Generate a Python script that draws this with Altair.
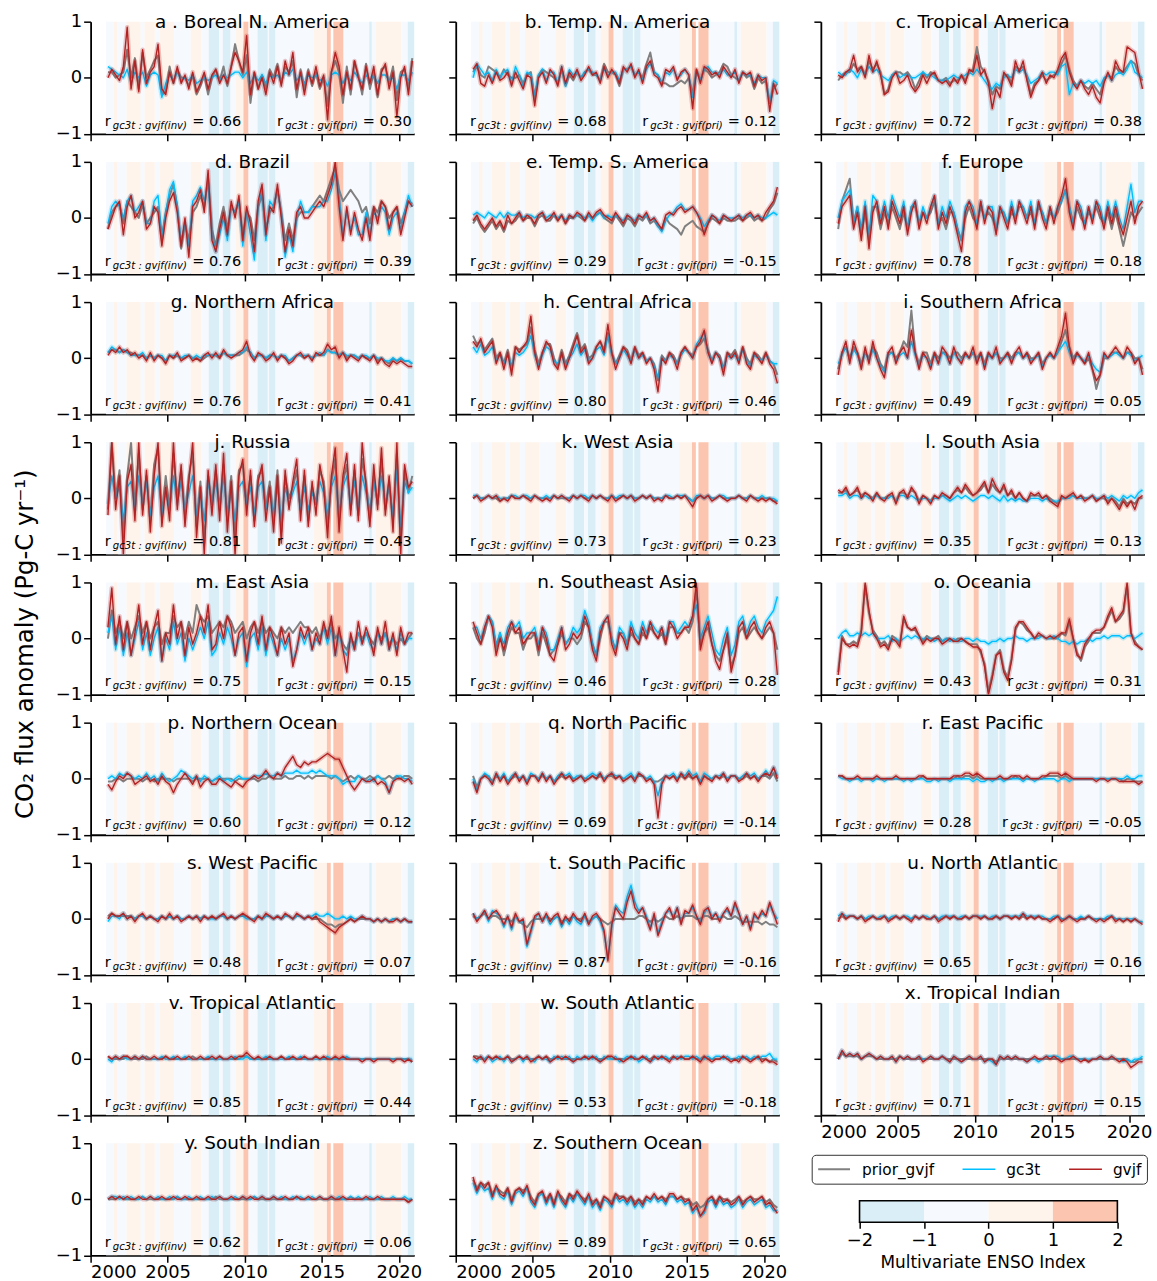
import math
import altair as alt
import pandas as pd

FONT = "DejaVu Sans"
LETTERS = list("abcdefghijklmnopqrstuvwxyz")
TITLES = ["a . Boreal N. America", "b. Temp. N. America", "c. Tropical America",
          "d. Brazil", "e. Temp. S. America", "f. Europe",
          "g. Northern Africa", "h. Central Africa", "i. Southern Africa",
          "j. Russia", "k. West Asia", "l. South Asia",
          "m. East Asia", "n. Southeast Asia", "o. Oceania",
          "p. Northern Ocean", "q. North Pacific", "r. East Pacific",
          "s. West Pacific", "t. South Pacific", "u. North Atlantic",
          "v. Tropical Atlantic", "w. South Atlantic", "x. Tropical Indian",
          "y. South Indian", "z. Southern Ocean"]
R_INV = [0.66, 0.68, 0.72, 0.76, 0.29, 0.78, 0.76, 0.80, 0.49, 0.81, 0.73, 0.35, 0.75,
         0.46, 0.43, 0.60, 0.69, 0.28, 0.48, 0.87, 0.65, 0.85, 0.53, 0.71, 0.62, 0.89]
R_PRI = [0.30, 0.12, 0.38, 0.39, -0.15, 0.18, 0.41, 0.46, 0.05, 0.43, 0.23, 0.13, 0.15,
         0.28, 0.31, 0.12, -0.14, -0.05, 0.07, -0.16, 0.16, 0.44, -0.18, 0.15, 0.06, 0.65]

SERIES = ["prior_gvjf", "gc3t", "gvjf"]
SERIES_COLORS = ["#808080", "#00bfff", "#b22222"]

# quarterly anomalies, hundredths of Pg-C/yr, 2001Q1 .. 2020Q4
PRIOR_GVJF = {
 "a": [10,10,0,5, 10,50,0,35, -20,45,0,15, 30,40,-30,-25, 20,-10,15,0, 0,-15,5,-30, -15,5,-30,0, 15,-5,20,-15, 20,60,30,5, 40,-45,10,-20, 5,-20,15,0, 25,-10,20,10, 30,-35,15,-20, 15,-15,10,-20, 0,-50,10,30, 10,-45,20,-30, 30,5,-30,25, -20,10,-35,15, 20,-10,20,-40, 10,15,-20,35],
 "b": [10,20,5,0, 20,15,10,0, 15,5,0,0, 5,-10,5,10, -40,5,15,10, 5,0,-10,15, -15,5,-5,10, 0,10,15,5, 5,-5,25,10, 10,5,-15,15, 15,20,5,10, 0,25,45,10, 5,-10,-10,-15, -15,-10,-5,-10, 0,-30,15,-5, 15,10,0,5, 10,25,20,5, 0,-5,10,0, 5,-20,0,-10, -5,-45,-20,-10],
 "c": [-5,5,10,10, 25,15,20,5, 30,15,25,10, -30,-20,5,10, 10,5,10,0, -20,-5,10,0, 10,5,-5,-5, 0,-10,-5,-5, 5,-5,10,15, 55,20,10,-5, -30,-15,-20,5, 5,-10,20,15, 20,0,-30,-10, -5,5,-5,0, 5,10,25,40, 15,-5,-15,-5, -15,-20,-10,-20, -30,-5,5,0, 20,10,10,20, 30,25,5,-5],
 "d": [-20,10,20,25, -10,30,20,10, 0,25,-10,0, 10,20,-40,10, 40,60,20,-55, -10,-40,10,20, 40,20,70,-20, -50,-10,20,-20, 20,10,30,-30, 10,0,-40,20, 40,-20,10,20, 50,10,-40,-10, -40,0,10,10, 10,20,30,40, 30,50,70,90, 50,30,40,50, 40,30,10,20, -10,20,10,30, 20,0,10,20, -10,10,30,25],
 "e": [-10,0,-15,-25, -15,-5,-20,-10, -25,-5,-10,-5, 5,-5,0,0, -15,0,5,-5, -5,5,-5,5, -10,0,0,5, 0,-5,5,0, 5,10,0,-5, -10,5,-5,-15, 0,-5,-15,0, -5,5,-10,-5, -15,-20,0,-10, -15,-20,-30,-15, -10,-5,-15,-20, -25,-10,0,-5, -10,0,-5,-5, -5,0,-5,0, 5,-5,0,-5, 0,15,25,45],
 "f": [-20,30,50,70, -10,20,-30,10, -40,20,20,-20, 10,-10,20,0, -20,10,-20,20, 20,-10,10,0, 10,30,-10,0, -20,10,10,-20, -40,0,20,0, -10,20,0,10, 0,-20,10,10, -10,10,0,20, 20,0,10,-10, 20,10,-10,10, 0,10,30,50, 20,-10,20,0, -10,10,0,20, 0,-10,10,-20, 10,-20,-50,-20, 10,0,10,20],
 "g": [10,15,15,10, 15,10,10,5, 5,5,0,5, 0,5,0,-5, 5,0,5,0, 0,5,0,0, -5,0,5,5, 5,0,10,5, 5,5,5,10, 15,10,0,5, 5,0,5,5, 0,5,0,-5, 0,5,5,0, 5,0,5,5, 5,15,10,10, 5,10,0,5, 5,0,5,0, 0,5,-5,0, -5,-10,0,-5, 0,-5,-5,-10],
 "h": [40,25,30,15, 25,35,0,10, -10,15,-20,20, 15,20,25,55, 15,-10,10,25, 25,0,-15,15, -10,5,25,45, 15,25,0,5, 20,30,15,45, 10,-10,5,20, 15,-5,20,5, 10,-5,0,-10, -40,5,-5,10, 5,-10,10,20, 10,5,20,25, 35,15,-5,10, 5,-20,10,5, 15,-5,20,0, -10,10,5,-5, 10,-5,-10,-30],
 "i": [-20,10,20,0, 20,10,-10,10, 0,20,10,-10, -20,10,10,0, 10,30,20,85, 10,-10,10,10, -10,10,0,10, 10,0,10,10, 0,10,0,10, 0,10,-10,10, 0,10,0,0, 10,0,10,10, 0,10,0,0, 10,-10,0,10, 0,10,30,50, 20,0,10,0, -10,0,-20,-55, -30,0,0,10, 10,10,0,10, 10,0,0,-20],
 "j": [-20,100,0,50, -70,40,100,-20, 80,-20,40,-40, 60,90,-30,40, -20,80,0,50, -30,40,80,-50, 30,-80,40,-10, 50,-20,60,-40, 40,-70,50,60, -10,40,-40,40, 50,-20,30,-40, 50,-60,40,0, 20,50,-20,40, -40,20,-10,50, 30,-50,30,70, -40,30,60,-20, 50,-30,70,30, -40,40,-10,70, -20,30,-40,80, -80,50,10,40],
 "k": [0,5,0,0, 5,0,0,-5, 0,0,5,0, 0,5,0,0, 5,0,0,0, 0,5,0,0, 0,0,5,0, 5,0,0,5, 0,5,0,0, 5,0,0,5, 0,5,0,0, 5,0,5,0, 0,0,5,0, 0,5,0,5, 0,-5,0,5, 0,5,0,0, 5,0,0,0, 0,5,0,0, 5,0,0,0, 0,0,-5,-5],
 "l": [10,10,15,5, 10,15,5,10, 5,0,10,0, 0,5,5,-5, 10,10,5,15, 10,-5,5,0, -5,5,0,5, 5,0,10,15, 10,20,10,5, 10,15,25,10, 25,15,10,20, 5,10,0,10, 0,-5,5,5, 5,0,5,0, -5,-10,0,0, 5,5,0,5, 0,0,5,-5, 0,0,-5,0, -5,-15,0,-10, -5,-10,0,0],
 "m": [0,50,10,30, 0,30,0,20, 40,10,30,0, 20,30,-10,10, 10,40,20,30, 0,30,10,60, 40,30,40,10, 20,30,20,40, 30,10,20,30, 0,20,30,10, 30,10,20,10, 0,20,10,20, 10,20,30,20, 20,10,20,0, 20,10,30,0, 10,-10,-20,0, -10,10,0,10, 0,-10,10,0, 10,-10,0,-10, 0,-10,0,10],
 "n": [20,0,-10,10, 40,30,-20,10, -30,0,20,10, 10,-20,0,0, 10,-30,10,-10, -30,-20,-10,10, -10,0,0,-10, 0,30,20,-10, -30,0,30,30, 0,-20,10,10, -10,10,0,-10, 10,0,20,10, 0,10,-10,20, 20,10,10,20, 10,30,90,-10, 10,20,-10,-30, -40,-20,0,-50, -30,10,20,0, 10,20,10,0, 10,20,10,-20],
 "o": [-60,5,-10,-10, -5,-10,15,95, 45,15,5,-10, -5,-15,5,0, -10,35,20,15, 15,5,-5,5, 0,0,5,-5, 0,0,-5,0, 0,-5,-10,-10, -10,-25,-45,-95, -65,-30,-20,-55, -70,-35,15,30, 25,15,10,0, 5,5,0,0, 0,0,10,5, 30,0,-25,-40, -15,-5,10,10, 10,20,35,50, 30,35,45,95, 10,-5,-15,-20],
 "p": [-5,-5,0,0, -5,0,0,0, 0,-5,0,0, -5,0,0,0, 0,-5,0,0, 0,0,-5,0, 0,0,0,-5, 0,0,0,0, 0,-5,0,0, 0,0,0,-5, 0,0,5,0, 0,0,5,0, 0,5,5,0, 5,0,5,5, 5,5,0,5, 0,-5,0,5, 0,5,0,0, 5,0,5,0, 0,5,0,5, 0,5,5,0],
 "q": [5,-15,0,5, 5,-5,5,0, 5,-5,0,5, 0,5,-5,5, 5,0,5,0, 5,-5,0,5, 0,5,0,0, 5,0,0,5, 0,5,0,5, 5,0,5,0, 0,5,0,5, 5,0,0,-5, -5,0,5,0, 5,0,5,0, 5,0,5,-5, 5,0,0,5, 0,5,0,5, 5,0,0,5, 0,5,0,5, 5,0,10,-5],
 "r": [5,5,0,0, 0,0,0,0, 0,0,0,0, 0,0,0,0, 0,0,0,0, 0,0,5,0, 0,0,0,0, 0,0,0,5, 0,5,5,0, 5,0,0,0, 0,0,0,0, 0,0,5,0, 0,0,0,0, 0,0,5,5, 5,5,0,5, 0,0,0,0, 0,0,0,0, 0,0,0,0, 0,0,-5,0, 0,-5,-5,-5],
 "s": [5,10,5,5, 5,5,5,0, 5,5,0,5, 0,0,5,0, 5,0,5,0, 0,5,0,5, 0,5,0,5, 0,5,5,0, 5,0,5,5, 5,0,0,5, 0,5,5,0, 5,0,5,5, 0,5,5,0, 5,0,0,0, -5,-10,-10,-15, -10,-10,-5,0, -5,0,0,0, 0,-5,0,-5, 0,-5,0,0, -5,0,-5,-5],
 "t": [5,0,5,10, 0,5,5,0, 0,0,-5,5, -5,-10,-15,-5, 0,0,0,5, 0,0,5,-5, 0,0,5,0, 0,5,-5,0, 5,0,-5,-10, -5,0,0,0, 0,0,0,5, 5,0,-5,0, -5,0,5,0, 0,5,0,5, 5,5,0,0, 5,5,0,0, 0,5,0,0, 5,0,-5,-5, -5,-5,-5,-10, -5,-10,-10,-15],
 "u": [0,5,0,5, 5,0,5,0, 0,5,0,0, 5,0,0,5, 0,5,0,0, 5,0,5,0, 0,5,0,0, 5,0,5,0, 0,5,0,5, 5,0,5,0, 0,5,0,5, 5,0,5,0, 5,0,5,0, 5,0,0,0, 0,5,0,0, 5,0,0,0, 0,5,0,0, 0,0,0,5, 0,0,-5,0, -5,0,-5,-5],
 "v": [5,0,0,0, 0,5,0,0, 0,0,5,0, 0,0,0,5, 0,0,0,0, 0,0,5,0, 0,0,0,0, 0,5,0,0, 0,0,0,5, 5,0,0,0, 0,0,0,0, 0,5,0,0, 0,0,0,0, 0,0,5,0, 0,0,0,0, 0,0,0,0, 0,0,0,0, 0,0,0,0, 0,0,0,0, 0,0,0,-5],
 "w": [5,5,0,0, 5,0,5,0, 0,5,0,0, 5,0,0,0, 0,5,0,5, 0,0,5,0, 0,0,0,0, 0,5,0,5, 0,0,0,5, 0,0,0,0, 0,5,0,0, 5,0,0,5, 0,5,0,0, 5,0,5,0, 0,5,0,0, 5,0,0,0, 0,5,0,0, 0,0,5,0, 0,0,5,0, 0,-5,0,-5],
 "x": [0,10,5,5, 5,5,0,5, 5,5,0,0, 0,0,0,0, 5,0,0,0, 0,0,0,0, 0,0,0,5, 0,0,0,0, 0,0,0,0, 0,0,0,0, 0,-5,0,0, 0,0,0,0, 0,0,0,0, 0,0,0,0, 0,0,0,0, 0,0,0,0, 0,-5,0,0, 0,0,0,0, 0,0,0,0, -5,-5,0,0],
 "y": [0,0,0,5, 0,0,0,0, 0,5,0,0, 0,0,0,0, 0,0,5,0, 0,0,0,0, 0,0,0,0, 5,0,0,0, 0,0,0,0, 0,0,5,0, 0,0,0,0, 0,0,0,0, 0,5,0,0, 0,0,0,0, 0,0,0,0, 0,0,0,5, 0,0,0,0, 0,0,0,0, 0,0,0,0, 0,0,-5,0],
 "z": [35,20,30,25, 30,10,20,15, 10,20,0,15, 20,15,20,5, -5,10,10,0, 10,-5,10,5, -5,10,5,10, 5,0,5,-5, 0,-10,5,0, -5,10,5,5, 0,5,-5,0, -5,5,0,5, 0,5,0,5, 5,0,5,0, 0,-10,-5,-15, -10,0,5,-5, 5,0,0,-5, 0,5,-5,0, 5,0,0,5, -5,0,-10,-15],
}

GC3T = {
 "a": [20,15,10,5, 0,15,-10,10, 0,10,-15,5, 10,5,-35,-10, 5,-5,10,-5, 0,-5,5,-10, -5,0,-5,0, 5,-5,5,0, 5,10,10,0, 10,-10,5,-5, 5,-10,5,0, 5,-5,10,5, 15,-5,5,-10, 5,0,5,-5, 0,-15,5,10, 5,-10,5,-5, 10,0,-10,5, -5,5,-10,5, 5,-5,0,-20, 5,5,-5,10],
 "b": [0,25,15,5, 10,-5,15,0, 10,15,-10,20, 5,-15,10,5, -30,5,15,-5, 10,10,-10,20, -15,15,5,10, 0,10,15,10, 5,-5,15,5, 10,10,-5,15, 15,20,5,10, -5,15,25,10, 5,-10,10,5, 15,0,5,15, 5,-35,10,-5, 15,20,10,10, 5,15,5,5, 10,-5,10,5, 5,-10,5,0, 0,-45,-5,-10],
 "c": [10,5,5,15, 10,0,15,5, 20,10,15,5, 0,-5,5,10, 0,5,5,0, 0,5,10,5, 5,0,-5,-5, -5,0,5,0, 0,5,10,5, 15,5,-5,-15, -20,-10,-15,0, 5,0,15,10, 15,5,-10,-5, 0,10,5,10, 10,5,20,25, -30,-10,-15,-5, -10,-5,-10,-5, -15,0,5,-5, 5,10,5,15, 30,10,5,0],
 "d": [-10,20,30,20, 0,30,40,10, 20,30,-10,-10, 30,40,-30,10, 50,65,20,-40, -10,-50,30,40, 55,30,60,-30, -60,-30,0,-40, 20,10,30,-50, 10,-30,-75,20, 50,-40,30,20, 50,10,-70,-30, -60,0,30,10, 10,20,20,20, 30,30,50,80, 40,-30,10,-20, 0,-30,-30,10, -30,10,0,20, 10,-30,0,10, -20,10,40,20],
 "e": [5,10,5,0, 10,5,0,10, 0,10,5,5, 10,0,5,5, 0,5,10,0, 5,5,0,5, -5,5,0,5, 5,0,5,-5, 5,10,0,5, 0,5,0,-5, 5,0,-5,5, 0,5,-5,0, -15,-25,-5,5, 10,20,25,15, 15,20,10,0, -15,-5,5,0, -5,5,0,0, 0,5,0,5, 5,0,5,0, 0,5,10,5],
 "f": [0,30,40,50, -10,20,-20,30, -30,40,30,0, 30,0,40,20, 0,30,-20,20, 30,-10,20,0, 20,40,-10,20, 0,30,10,-20, -40,20,30,20, -10,30,0,20, 20,-20,20,10, -10,30,0,30, 20,0,30,-10, 30,10,-10,20, 0,20,30,50, 20,-10,30,20, -10,20,0,30, 20,-10,30,0, 30,0,-20,20, 60,10,30,30],
 "g": [10,20,15,10, 15,10,5,5, 5,10,0,5, 0,5,5,-5, 5,5,5,0, 5,5,0,5, 0,5,5,5, 5,5,10,5, 5,5,10,10, 20,10,0,5, 5,0,5,5, 0,5,5,-5, 0,5,5,5, 5,0,5,10, 5,15,10,10, 5,10,5,5, 5,0,5,5, 0,5,0,0, -5,-5,0,-5, 0,-5,-5,-10],
 "h": [20,10,25,5, 10,20,-5,5, -10,5,-15,10, 5,10,20,40, 5,-15,5,20, 15,-5,-10,5, -15,0,10,25, 5,15,-5,0, 15,20,5,40, 5,-10,0,15, 5,-5,15,0, 5,-5,0,-15, -35,0,-5,5, 0,-10,5,15, 10,0,25,35, 45,10,-5,10, 0,-20,5,0, 5,-5,15,-5, -15,5,0,-5, 5,-5,-10,-10],
 "i": [-10,5,20,-5, 15,5,-15,10, -5,15,0,-15, -25,5,10,-5, 5,10,0,30, 5,-15,5,0, -15,5,-10,10, 5,-10,10,0, -5,5,0,10, -5,5,-15,5, 0,10,-5,0, 5,-5,5,10, 0,5,-5,0, 5,-15,0,5, 0,10,20,30, 10,-5,5,0, -5,5,-10,-20, -25,5,0,5, 10,5,0,10, 5,-5,0,5],
 "j": [-10,40,0,20, -40,20,30,-20, 40,-10,30,-30, 20,40,-30,10, -20,40,-10,30, -20,10,40,-30, 10,-40,30,-10, 30,-20,40,-30, 10,-40,20,30, -10,20,-30,20, 30,-20,10,-30, 20,-40,20,-10, 10,30,-20,20, -20,10,-10,30, 10,-30,20,40, -30,20,40,-10, 30,-20,40,10, -20,30,-10,40, -10,20,-30,50, -50,30,10,20],
 "k": [5,5,0,0, 5,0,5,0, 0,0,5,5, 0,5,5,0, 5,0,0,5, 0,5,0,5, 0,0,5,0, 5,5,0,5, 0,5,0,0, 5,0,5,5, 0,5,0,0, 5,0,5,0, 0,0,5,5, 0,5,5,5, 0,-5,5,5, 0,5,0,0, 5,5,0,0, 0,5,0,0, 5,0,0,5, 0,0,0,-5],
 "l": [5,5,10,0, 5,5,0,5, 0,0,5,0, 0,0,5,-5, 5,5,0,5, 0,-5,0,0, -5,0,0,5, 0,-5,0,5, 0,5,0,-5, 0,5,5,0, 5,0,-5,5, -5,0,-5,0, -5,-5,0,0, 0,-5,0,-5, -5,-5,0,0, 0,5,0,0, 0,0,5,0, 0,5,0,5, 0,-5,5,0, 5,0,10,15],
 "m": [10,40,-20,20, -30,10,-30,0, 30,-20,10,-30, 0,20,-40,0, -20,30,-10,10, -40,0,-20,0, 20,0,30,-30, -20,10,-10,20, 0,-30,0,10, -50,0,10,-20, 20,-30,10,-10, -30,0,-20,0, -40,-20,10,-10, 10,-20,0,-10, 20,-10,20,-30, 10,-20,-30,0, -20,10,-10,10, -10,-20,10,-10, 10,-20,0,-20, 10,-10,0,0],
 "n": [20,20,0,20, 40,30,-10,10, -10,20,30,20, 30,0,10,10, 20,-10,20,10, -20,-20,0,20, -10,0,20,10, 20,50,30,-10, -30,20,30,40, 0,-20,20,10, -10,30,10,0, 30,10,30,20, 10,20,0,30, 30,10,20,30, 20,40,60,0, 20,40,10,-20, -30,0,20,-30, -10,30,40,10, 30,40,20,10, 30,40,50,75],
 "o": [0,10,15,5, 5,10,5,10, 5,10,0,0, 0,5,-5,0, -5,0,5,0, 5,0,0,0, 0,-5,0,-5, 0,-5,0,-5, -5,0,0,-5, 0,-5,-5,-10, -5,-5,0,-5, 0,0,5,0, 0,-5,0,0, 0,5,0,0, 5,0,-5,-5, -10,-5,-10,-5, -5,0,-5,0, 0,5,0,5, 5,5,0,5, 5,0,5,10],
 "p": [0,5,0,10, 5,10,5,0, 5,0,10,0, 5,-5,10,0, -5,0,5,15, 10,5,0,5, -5,5,0,-5, 0,5,-5,0, -5,0,5,0, 0,0,5,5, 5,10,5,5, 10,5,10,10, 10,15,10,10, 10,15,10,15, 10,5,5,5, 0,-10,-5,-5, -5,5,0,-5, 0,-5,5,0, -5,-25,-5,5, 5,0,0,-5],
 "q": [0,-20,0,10, 5,-10,10,0, 10,-5,5,10, 0,5,-5,10, 5,0,10,0, 5,-5,5,10, 5,10,0,5, 5,0,5,10, 5,10,0,5, 10,5,5,0, 5,10,0,10, 5,0,5,-5, -30,-5,5,5, 10,0,10,5, 15,5,10,-5, 10,5,0,5, 5,10,0,5, 5,0,5,10, 5,10,0,5, 15,5,20,5],
 "r": [5,0,0,-5, 0,0,-5,0, 0,-5,0,0, -5,0,0,0, 0,-5,0,-5, 0,0,0,-5, -5,0,-5,0, 0,-5,0,0, 0,0,0,-5, 0,-5,-5,0, -5,0,0,-5, 0,0,0,0, -5,0,0,-5, 0,0,0,0, 0,-5,0,0, -5,0,0,0, 0,0,0,0, 0,0,0,0, 0,0,0,5, 0,0,5,5],
 "s": [-5,5,5,0, 10,0,5,0, 5,5,0,5, 0,0,5,0, 5,0,5,0, 0,5,0,5, 0,5,0,0, 0,5,5,0, 5,0,5,5, 0,0,0,5, 0,5,5,0, 5,0,5,5, 0,5,5,0, 5,5,10,5, 5,10,5,0, 0,5,0,5, 0,0,5,0, 0,-5,0,-5, 0,-5,0,0, -5,0,-5,-5],
 "t": [10,0,5,15, -5,15,10,5, -15,5,-20,5, -5,-5,-50,-25, 0,10,-5,5, -10,0,5,-15, 0,-10,5,-5, -10,5,-10,0, 5,-5,-25,-70, -15,25,15,10, 40,60,30,15, 20,5,-15,5, -25,-5,10,15, 5,20,-5,10, 10,20,5,-5, 10,20,5,10, 0,10,15,5, 25,10,-10,5, -15,5,0,10, 5,25,10,0],
 "u": [5,10,5,5, 5,0,5,0, 5,5,0,5, 5,0,5,5, 0,5,5,0, 5,0,5,5, 0,5,0,5, 5,5,5,0, 5,5,0,5, 5,5,5,0, 5,5,0,5, 5,5,5,5, 10,5,5,5, 5,5,0,0, 5,5,0,0, 5,0,0,5, 0,5,0,0, 0,0,5,5, 0,0,0,0, 0,0,-5,-5],
 "v": [0,-5,5,0, 5,0,0,5, 0,5,0,0, 0,0,5,0, 0,5,0,0, 5,0,0,0, 0,0,5,0, 0,0,0,0, 0,5,0,0, 5,0,0,0, 0,5,0,0, 0,0,0,5, 0,0,5,0, 0,0,0,0, 0,5,0,0, 0,0,5,0, 0,0,0,0, 0,0,0,0, 0,0,0,0, 0,0,0,0],
 "w": [0,-5,5,0, 5,-5,0,5, -5,5,-5,0, 5,-5,5,0, -5,5,0,0, -5,5,0,5, 0,5,-5,5, 0,0,5,0, 5,-5,5,0, 0,5,-5,0, 5,0,5,-5, 0,5,-5,0, 5,0,5,0, 0,5,0,5, 5,0,5,0, 0,5,0,5, 5,0,5,0, 0,5,0,5, 0,5,0,5, 5,10,0,0],
 "x": [0,15,5,10, 5,10,0,5, 10,5,0,5, 0,0,5,-5, 5,0,5,0, 0,5,0,0, 5,0,0,5, 0,-5,5,0, -5,0,5,0, 0,5,-5,0, -5,-10,5,0, 5,0,5,0, 0,-5,0,0, -5,0,5,5, 5,5,0,0, 5,5,0,0, 0,0,0,0, 5,0,0,5, 0,0,-5,0, -5,0,0,5],
 "y": [0,5,5,0, 5,0,5,0, 0,5,0,5, 0,5,0,0, 5,0,5,0, 0,5,0,0, 5,0,0,5, 0,5,0,0, 0,5,0,5, 0,0,5,0, 5,0,0,5, 0,5,0,0, 5,0,5,0, 0,5,0,5, 0,0,5,0, 5,0,0,5, 0,5,0,0, 5,0,0,5, 0,0,5,0, 0,5,0,0],
 "z": [30,10,25,15, 20,0,20,5, 0,15,-10,10, 15,5,20,-5, -15,5,10,-10, 5,-15,10,-5, -15,5,-5,10, 0,-10,5,-15, -5,-20,0,-5, -15,5,-5,0, -10,0,-15,-5, -15,0,-5,5, -5,0,-10,5, 5,-5,0,-10, -5,-25,-15,-30, -25,-5,0,-15, 0,-10,-5,-15, -10,0,-15,-5, 0,-10,-5,0, -15,-10,-20,-20],
}

GVJF = {
 "a": [0,15,5,-5, 20,90,-20,30, -25,50,-10,10, 20,60,-20,-30, 10,-10,20,-10, 5,-20,10,-25, -10,10,-20,5, 15,-10,5,-10, 20,45,30,10, 75,-30,10,-20, 0,-30,10,-10, 20,-15,30,5, 45,-20,10,-30, 10,-10,20,-15, 5,-75,10,45, 20,-30,10,-20, 30,0,-20,20, -10,20,-30,10, 25,-20,10,-70, 0,20,-30,30],
 "b": [15,25,-10,-15, 5,-10,10,-5, 0,10,-15,10, -5,-20,5,0, -50,0,10,-10, 15,5,-15,20, -10,10,0,15, -5,5,20,5, 10,-10,20,0, 15,5,-10,20, 10,25,0,15, -10,20,30,5, 0,-15,15,10, 20,-5,10,15, 5,-55,15,-10, 20,15,5,10, 0,20,10,0, 15,-10,10,5, 10,-15,5,-5, 0,-60,-10,-30],
 "c": [5,0,10,15, 40,10,20,0, 40,10,30,5, -30,-25,0,10, -10,-5,5,-15, -25,-15,5,-10, 5,10,-5,-10, -5,-15,0,-10, 5,-10,15,10, 40,5,15,-10, -55,-20,-35,10, 0,-15,30,10, 30,-5,-35,-15, -5,10,-10,5, 0,15,35,45, 10,-10,-20,-5, -20,-30,-15,-35, -45,-10,10,-5, 30,15,10,55, 50,45,10,-20],
 "d": [-20,0,20,30, -30,20,40,0, 10,30,-20,-10, 20,10,-50,0, 30,45,10,-50, 0,-70,20,30, 50,10,85,-40, -60,-20,10,-30, 30,0,40,-40, 20,-10,-60,30, 60,-30,20,10, 60,0,-60,-20, -50,10,20,0, 0,10,20,30, 20,40,60,100, 20,-40,20,-30, 10,-20,-40,0, -40,20,-10,30, 20,-20,10,20, -30,0,30,20],
 "e": [-5,5,-10,-20, -10,0,-15,-5, -20,5,-10,0, 10,-5,5,0, -10,5,10,-5, 0,10,-5,5, -10,5,0,10, 5,-5,10,0, 10,15,5,0, -5,10,0,-10, 5,0,-10,5, 0,10,-5,0, -10,-20,5,10, 5,15,20,10, 15,20,10,-5, -30,-10,5,0, -10,5,0,-5, 0,5,-5,5, 10,0,5,-5, 10,20,30,55],
 "f": [-10,20,30,40, -20,10,-40,20, -55,10,30,-10, 20,-20,30,10, -10,20,-30,10, 30,-20,10,-10, 20,40,-20,10, -10,20,0,-30, -60,10,30,10, -20,30,-10,20, 10,-30,20,0, -20,20,-10,30, 10,-10,20,-20, 30,0,-20,20, -10,20,40,70, 10,-20,30,10, -20,20,-10,30, 10,-20,20,-10, 20,-10,-30,0, 30,-10,20,30],
 "g": [5,15,10,20, 10,15,5,10, 0,5,-5,10, -5,5,0,-10, 5,0,10,-5, 0,5,-5,0, -5,5,10,0, 10,0,15,5, 0,5,10,15, 30,5,-5,10, 5,-5,0,10, -5,5,0,-10, -5,5,10,0, 5,-5,10,5, 10,25,15,20, 0,10,-5,5, 0,-5,5,0, -5,5,-10,0, -10,-15,-5,-10, -5,-10,-15,-15],
 "h": [30,20,35,10, 20,30,-10,10, -20,10,-30,20, 10,20,30,75, 10,-20,10,30, 20,-10,-20,10, -20,0,20,40, 10,20,-10,0, 20,30,10,60, 10,-20,0,20, 10,-10,20,0, 10,-10,0,-20, -60,0,-10,10, 0,-20,10,20, 10,0,20,30, 50,10,-10,10, 0,-30,10,0, 10,-10,20,-10, -20,10,0,-10, 10,-10,-20,-45],
 "i": [-30,10,30,-10, 30,10,-20,20, -10,30,0,-20, -35,10,20,-10, 10,20,0,50, 10,-20,10,0, -20,10,-10,20, 10,-10,20,0, -10,10,0,20, -10,10,-20,10, 0,20,-10,0, 10,-10,10,20, 0,10,-10,0, 10,-20,0,10, 0,20,40,80, 20,-10,10,0, -10,10,-20,-40, -30,10,0,10, 20,10,0,20, 10,-10,0,-30],
 "j": [-30,100,-20,40, -100,30,60,-40, 100,-30,50,-60, 40,100,-50,20, -40,100,-20,60, -50,30,100,-70, 20,-100,50,-30, 60,-40,80,-60, 30,-100,40,70, -30,50,-50,30, 60,-40,20,-60, 40,-80,50,-20, 30,70,-40,50, -50,30,-30,60, 20,-70,40,90, -60,40,80,-30, 60,-40,100,20, -50,60,-20,90, -30,40,-60,100, -100,60,20,30],
 "k": [0,5,-5,0, 5,0,5,-5, 0,-5,5,0, 0,5,0,-5, 5,0,-5,0, -5,5,0,5, 0,-5,5,0, 5,0,-5,5, 0,5,0,-5, 5,-5,0,5, 0,5,-5,0, 5,0,5,-5, 0,-5,5,0, 0,5,0,5, -5,-15,0,5, 0,5,-5,0, 5,0,-5,0, 0,5,0,-5, 5,0,-5,0, -5,0,-5,-10],
 "l": [15,10,20,5, 10,20,0,10, 5,-5,10,0, -5,5,10,-10, 10,15,0,20, 10,-10,5,0, -10,5,0,10, 5,0,10,20, 10,25,15,5, 10,20,30,10, 35,20,10,25, 5,15,0,10, 0,-5,10,5, 10,0,5,-5, -10,-15,5,0, 5,10,0,5, -5,0,5,-5, 0,5,-10,0, -10,-20,-5,-15, -5,-20,0,5],
 "m": [20,90,-10,40, -20,30,-30,10, 60,-10,30,-20, 20,50,-40,10, -10,60,0,30, -30,20,-10,10, 40,10,60,-20, -10,30,0,40, 20,-30,10,20, -40,10,30,-10, 40,-20,20,0, -30,20,-10,10, -50,-20,20,0, 20,-20,10,-10, 30,0,40,-30, 20,-20,-60,10, -20,30,-10,20, 0,-30,20,-10, 30,-20,10,-30, 20,-10,10,10],
 "n": [30,10,-10,20, 40,20,-30,0, -20,10,30,10, 20,-10,0,10, 10,-20,20,0, -30,-40,-10,20, -20,-10,10,0, 10,40,20,-20, -40,10,30,40, -10,-30,10,0, -20,20,0,-10, 20,0,30,10, 0,20,-10,30, 20,0,10,20, 20,40,100,-20, 10,30,-10,-40, -55,-20,10,-60, -30,20,30,0, 20,30,10,0, 20,30,10,-65],
 "o": [-65,0,-10,-15, -10,-15,10,100, 50,10,0,-15, -10,-20,0,-5, -15,40,20,15, 20,5,-10,0, -5,0,0,-10, -5,0,-5,-5, 0,-5,-10,-15, -15,-20,-50,-100, -70,-30,-25,-60, -75,-40,20,30, 30,20,10,0, 10,5,0,5, 0,5,10,10, 35,0,-30,-35, -10,0,10,15, 15,20,40,55, 30,40,50,100, 10,-10,-15,-20],
 "p": [-10,-20,-5,5, 0,10,5,-10, -5,0,5,-5, 0,-10,5,-5, -10,-25,-10,0, 10,0,-10,5, -15,-5,0,-10, -10,0,-5,-10, -15,-5,-10,-15, -5,0,5,0, 5,15,5,0, 10,5,20,30, 40,25,20,30, 25,30,30,35, 40,45,40,35, 35,20,5,-10, -20,-10,0,-5, -5,0,-10,-5, -10,-25,-5,0, 0,-5,0,-10],
 "q": [-5,-25,0,5, 0,-10,10,-5, 5,-10,0,10, -5,5,-10,5, 5,-5,10,-5, 5,-10,0,10, 0,5,-5,0, 5,-5,0,5, 0,10,-5,5, 10,0,5,-5, 0,5,-5,10, 5,-5,0,-10, -70,-10,5,0, 5,-5,10,0, 10,0,5,-10, 5,0,-5,5, 0,10,-5,5, 5,-5,0,10, 0,5,-5,5, 10,5,20,0],
 "r": [5,5,0,0, 0,5,0,0, 0,0,5,0, 0,0,0,5, 0,0,0,0, 0,5,5,0, 0,0,0,0, 0,0,5,5, 5,10,10,5, 10,5,0,0, 0,0,5,0, 0,5,5,5, 0,5,0,0, 0,5,5,10, 10,10,5,10, 5,0,0,0, 0,0,0,-5, 0,0,-5,0, 0,-5,-5,-5, -5,-5,-10,-5],
 "s": [0,10,5,5, 10,0,5,-5, 5,10,0,5, 0,-5,5,0, 10,0,5,-5, 0,5,0,5, -5,5,0,5, 0,5,10,0, 5,0,5,10, 5,0,-5,5, 0,10,5,0, 5,0,10,5, 0,10,5,0, 5,0,5,-5, -10,-15,-20,-25, -15,-10,-5,0, -5,0,5,0, 0,-5,0,-5, 0,-5,-5,0, -5,0,-5,-5],
 "t": [10,-5,5,15, 0,10,15,5, -10,5,-15,10, -5,0,-45,-20, 5,10,-5,10, -5,5,10,-10, 5,-5,10,0, -5,10,-10,5, 10,0,-20,-75, -10,20,10,0, 30,50,20,10, 20,0,-20,10, -30,-10,10,20, 0,20,-10,15, 10,25,5,-10, 15,20,0,10, -5,10,20,5, 30,10,-10,5, -20,10,0,15, 5,30,10,-10],
 "u": [-5,10,0,5, 5,0,5,-5, 0,5,0,0, 5,-5,0,5, 0,5,0,-5, 5,0,5,0, 0,5,-5,0, 5,0,5,0, 0,5,0,5, 5,0,5,0, 0,5,0,5, 5,0,5,0, 10,0,5,0, 5,0,0,-5, 0,5,-5,0, 5,0,-5,0, 0,5,0,-5, 0,-5,0,5, -5,0,-5,0, -5,0,-5,-10],
 "v": [5,0,5,0, 5,5,0,5, 0,5,0,0, 5,0,0,5, 0,0,5,0, 0,5,0,0, 5,0,0,5, 0,5,0,0, 5,0,5,5, 12,5,0,5, 0,0,5,0, 0,5,0,0, 5,0,0,5, 0,0,5,0, 5,0,0,5, 0,5,0,0, 0,0,-5,0, 0,-5,0,0, 0,0,-5,0, 0,-5,0,-5],
 "w": [5,0,5,-5, 5,0,5,0, 0,5,-5,0, 5,0,5,-5, 0,5,0,5, -5,0,5,0, 5,0,-5,0, 0,5,0,5, 0,-5,0,5, 5,0,0,-5, 0,5,0,0, 5,0,-5,5, 0,5,0,-5, 5,0,5,0, 0,5,0,-5, 5,0,-5,0, 0,5,0,-5, 0,-5,5,0, -5,0,5,-5, 0,-5,-5,-10],
 "x": [0,15,5,10, 5,10,0,5, 10,5,0,5, 0,0,5,-5, 5,0,5,0, 0,5,-5,0, 5,0,0,5, 0,-5,5,0, -5,0,5,0, 0,5,-5,0, 0,-10,5,0, 5,0,5,0, 0,-5,0,5, 0,0,5,0, 5,0,-5,0, 0,5,0,-5, 0,-5,0,0, 5,0,0,5, 0,-5,0,-5, -15,-10,-5,-5],
 "y": [0,5,0,5, 0,5,0,0, 5,0,0,5, 0,0,5,0, 0,5,0,0, 5,0,0,5, 0,0,5,0, 0,5,0,0, 5,0,0,5, 0,5,0,0, 5,0,0,5, 0,0,5,0, 0,5,0,0, 5,0,0,5, 0,0,5,0, 0,5,0,0, 0,0,0,5, 0,0,5,0, 0,0,0,0, 0,0,-5,0],
 "z": [40,15,30,20, 30,5,25,10, 5,20,-5,15, 20,10,25,0, -10,10,15,-5, 10,-10,15,0, -10,10,0,15, 5,-5,10,-10, 0,-15,5,0, -10,10,0,5, -5,5,-10,0, -10,5,0,10, 0,5,-5,10, 10,0,5,-5, 0,-20,-10,-30, -20,0,5,-10, 5,-5,0,-10, -5,5,-10,0, 5,-5,0,5, -10,-5,-15,-25],
}

# Monthly Multivariate ENSO Index, Jan 2001 .. Dec 2020
MEI = [
 -0.6,-0.5,-0.5,-0.4,-0.3,-0.2, 0.1,0.2,0.1,-0.2,-0.3,-0.2,
 -0.3,-0.4,-0.3,-0.1, 0.3,0.6,0.7,0.8,0.8,0.9,0.9,0.8,
 0.7,0.5,0.2,-0.1,-0.3,-0.1, 0.1,0.2,0.2,0.3,0.3,0.2,
 0.2,0.1,-0.2,-0.3,-0.2,-0.1, 0.3,0.5,0.5,0.6,0.6,0.5,
 0.4,0.5,0.4,0.3,0.2,-0.1,-0.2,-0.1,-0.3,-0.5,-0.6,-0.6,
 -0.7,-0.6,-0.6,-0.4,-0.2,-0.1, 0.2,0.4,0.6,0.7,0.8,0.7,
 0.5,0.2,-0.2,-0.4,-0.5,-0.6,-0.7,-0.9,-1.1,-1.3,-1.4,-1.3,
 -1.5,-1.4,-1.3,-1.1,-0.9,-0.8,-0.9,-1.1,-1.2,-1.3,-1.2,-1.1,
 -1.1,-0.9,-0.7,-0.4,-0.2, 0.2,0.5,0.6,0.7,0.8,0.9,1.1,
 1.2,1.2,1.1,-0.1,-0.3,-0.4,-0.5,-0.7,-0.8,-0.9,-1.2,-1.4,
 -1.5,-1.6,-1.5,-1.3,-1.2,-1.1,-0.9,-1.1,-1.2,-1.3,-1.2,-1.1,
 -0.9,-0.7,-0.6,-0.4,-0.2,-0.1,-0.1,-0.2,-0.3,-0.2,-0.2,-0.3,
 -0.3,-0.2,-0.2,-0.3,-0.4,-0.5,-0.4,-0.3,-0.2,-0.2,-0.3,-0.3,
 -0.3,-0.4,-0.3,-0.2,-0.1,-0.1, 0.2,0.3,0.4,0.5,0.6,0.6,
 0.5,0.6,0.7,0.9, 1.2,1.5,1.8, 2.1,2.2, 1.9,1.9,1.9,
 1.8,1.7,1.5,1.3,1.1,-0.1,-0.3,-0.4,-0.5,-0.5,-0.4,-0.4,
 -0.5,-0.4,-0.2,-0.1,-0.1,-0.2,-0.3,-0.4,-0.5,-0.6,-0.7,-0.8,
 -0.9,-1.1,-1.1,-0.8,-0.4,-0.1, 0.2,0.3,0.4,0.5,0.6,0.6,
 0.5,0.6,0.7,0.7,0.6,0.5,0.4,0.3,0.3,0.4,0.4,0.3,
 0.3,0.1,-0.1,-0.2,-0.4,-0.6,-0.8,-1.1,-1.2,-1.3,-1.2,-1.2,
]
ENSO_EDGES = [-2, -1, 0, 1, 2]
ENSO_NAMES = ["-2 to -1", "-1 to 0", "0 to 1", "1 to 2"]
ENSO_COLORS = ["#d9eef7", "#f6f9fe", "#fef4eb", "#fcc5b0"]

X_TICKS = [2000, 2005, 2010, 2015, 2020]
Y_TICKS = [-1, 0, 1]
Y_TICK_LABELS = ["\u22121", "0", "1"]
Y_TITLE = "CO\u2082 flux anomaly (Pg-C yr\u207b\u00b9)"

# ---------------- layout constants ----------------
W, H = 325, 112.6
START, STEP = 2001.125, 0.25
ONE = pd.DataFrame({"k": [0]})
XS = alt.Scale(domain=[2000, 2021], nice=False, zero=False)
YS = alt.Scale(domain=[-1, 1], nice=False, zero=False)
EM = {"0": .636, "1": .636, "2": .636, "3": .636, "4": .636, "5": .636, "6": .636,
      "7": .636, "8": .636, "9": .636, ".": .318, "-": .361, "=": .838, " ": .318,
      "g": .635, "c": .55, "t": .392, ":": .337, "v": .592, "j": .278, "f": .352,
      "(": .39, ")": .39, "i": .278, "n": .634, "p": .635, "r": .411}

Y_LABEL_EXPR = " : ".join(f"datum.value == {v} ? '{s}'" for v, s in zip(Y_TICKS, Y_TICK_LABELS)) + " : ''"


def tw(s, size):
    return sum(EM.get(ch, 0.6) for ch in s) * size


def enso_bin(v):
    if v < ENSO_EDGES[0] or v > ENSO_EDGES[-1]:
        return None
    for k in range(4):
        if v < ENSO_EDGES[k + 1] or k == 3:
            return ENSO_NAMES[k]


runs = []
for i, v in enumerate(MEI):
    b = enso_bin(v)
    if runs and runs[-1][2] == b and runs[-1][1] == i:
        runs[-1][1] = i + 1
    else:
        runs.append([i, i + 1, b])
BANDS = pd.DataFrame([{"t0": 2001 + a / 12, "t1": 2001 + b / 12, "enso": c}
                      for a, b, c in runs if c is not None])
ENSO_COLOR = alt.Color("enso:N", scale=alt.Scale(domain=ENSO_NAMES, range=ENSO_COLORS), legend=None)


def panel(idx):
    L = LETTERS[idx]
    xa = alt.Axis(values=X_TICKS, format="d", labels=idx >= 23, title=None, grid=False,
                  tickSize=7, labelPadding=1, labelOverlap=False)
    ya = alt.Axis(values=Y_TICKS, labelExpr=Y_LABEL_EXPR, labels=idx % 3 == 0, title=None,
                  grid=False, tickSize=7, labelPadding=2, labelOverlap=False)

    def xy_text(s, xval, yval, **kw):
        return alt.Chart(ONE).mark_text(text=s, font=FONT, color="black", **kw).encode(
            x=alt.XDatum(xval, scale=XS, axis=xa), y=alt.YDatum(yval, scale=YS, axis=ya))

    layers = [alt.Chart(BANDS).mark_rect().encode(
        x=alt.X("t0:Q", scale=XS, axis=xa), x2="t1",
        y=alt.YDatum(1, scale=YS, axis=ya), y2=alt.datum(-1), color=ENSO_COLOR)]

    def line(vals, color, width, opacity=1.0):
        d = pd.DataFrame({"t": [START + STEP * i for i in range(len(vals))],
                          "v": [x / 100 for x in vals]})
        return alt.Chart(d).mark_line(color=color, strokeWidth=width, opacity=opacity,
                                      clip=True, strokeJoin="round").encode(
            x=alt.X("t:Q", scale=XS, axis=xa), y=alt.Y("v:Q", scale=YS, axis=ya))

    layers.append(line(PRIOR_GVJF[L], SERIES_COLORS[0], 2.0))
    layers.append(line(GC3T[L], SERIES_COLORS[1], 4.5, 0.22))
    layers.append(line(GC3T[L], SERIES_COLORS[1], 1.4))
    layers.append(line(GVJF[L], SERIES_COLORS[2], 4.5, 0.25))
    layers.append(line(GVJF[L], SERIES_COLORS[2], 1.4))

    tdy = -4.4 if L == "x" else 6
    layers.append(xy_text(TITLES[idx], 2010.5, 1, align="center", baseline="alphabetic",
                          dy=tdy, fontSize=18.5))

    RS, SS = 14.6, 10.2
    sub_l = "gc3t : gvjf(inv)"
    sub_r = "gc3t : gvjf(pri)"
    eq_l = f"= {R_INV[idx]:.2f}"
    eq_r = f"= {R_PRI[idx]:.2f}"
    rw = tw("r", RS)
    # left
    layers.append(xy_text("r", 2000.92, -1, align="left", baseline="alphabetic", dy=-8.3, fontSize=RS))
    layers.append(xy_text(sub_l, 2000.92, -1, align="left", baseline="alphabetic", dy=-5.3,
                          dx=rw + 2, fontSize=SS, fontStyle="italic"))
    layers.append(xy_text(eq_l, 2000.92, -1, align="left", baseline="alphabetic", dy=-8.3,
                          dx=rw + 2 + tw(sub_l, SS) + 5, fontSize=RS))
    # right
    eqw = tw(eq_r, RS)
    layers.append(xy_text(eq_r, 2020.84, -1, align="right", baseline="alphabetic", dy=-8.3, fontSize=RS))
    layers.append(xy_text(sub_r, 2020.84, -1, align="right", baseline="alphabetic", dy=-5.3,
                          dx=-(eqw + 5), fontSize=SS, fontStyle="italic"))
    layers.append(xy_text("r", 2020.84, -1, align="right", baseline="alphabetic", dy=-8.3,
                          dx=-(eqw + 5 + tw(sub_r, SS) + 2), fontSize=RS))

    if L == "m":
        layers.append(alt.Chart(ONE).mark_text(text=Y_TITLE, font=FONT, fontSize=24.5, angle=270,
                                               align="center", baseline="middle", color="black").encode(
            x=alt.value(-65.3), y=alt.value(62)))
    return alt.layer(*layers).properties(width=W, height=H)


def legend_cell():
    LX = alt.Scale(domain=[-2.6, 2.42], nice=False, zero=False)
    cax = alt.Axis(values=ENSO_EDGES, format="d", domain=False, grid=False, tickSize=6,
                   offset=-33.2, title="Multivariate ENSO Index", titleFontSize=17,
                   titleFontWeight="normal", titlePadding=5, labelFontSize=18, labelPadding=3,
                   labelOverlap=False)
    cb = pd.DataFrame({"lo": ENSO_EDGES[:-1], "hi": ENSO_EDGES[1:], "enso": ENSO_NAMES})
    bar = alt.Chart(cb).mark_rect().encode(
        x=alt.X("lo:Q", scale=LX, axis=cax), x2="hi",
        y=alt.value(57.8), y2=alt.value(79.4), color=ENSO_COLOR)
    frame = alt.Chart(ONE).mark_rect(fillOpacity=0, stroke="black", strokeWidth=1.6).encode(
        x=alt.XDatum(ENSO_EDGES[0], scale=LX, axis=cax), x2=alt.datum(ENSO_EDGES[-1]),
        y=alt.value(57.8), y2=alt.value(79.4))
    box = alt.Chart(ONE).mark_rect(fill="white", stroke="#333333", strokeWidth=1,
                                   cornerRadius=4).encode(
        x=alt.value(-8.7), x2=alt.value(328), y=alt.value(12.1), y2=alt.value(41.1))
    line_x = [(-2.7, 29.3), (142.3, 175.3), (249.3, 282.3)]
    text_x = [41.3, 186.3, 293.3]
    widths = [2.0, 1.4, 1.4]
    items = []
    for k, name in enumerate(SERIES):
        items.append(alt.Chart(ONE).mark_rule(color=SERIES_COLORS[k], strokeWidth=widths[k]).encode(
            x=alt.value(line_x[k][0]), x2=alt.value(line_x[k][1]), y=alt.value(26.1)))
        items.append(alt.Chart(ONE).mark_text(text=name, font=FONT, fontSize=15.4, align="left",
                                              baseline="alphabetic", color="black").encode(
            x=alt.value(text_x[k]), y=alt.value(31.5)))
    return alt.layer(box, *items, bar, frame).properties(width=W, height=H)


cells = [panel(i) for i in range(26)] + [legend_cell()]

chart = alt.concat(*cells, columns=3, spacing={"row": 27.8, "column": 41.7}, bounds="flush").properties(
    padding={"left": 12, "top": 10, "right": 5, "bottom": 2}
).configure_view(stroke=None).configure_axis(
    domainColor="black", domainWidth=1.8, tickColor="black", tickWidth=1.5,
    labelColor="black", labelFont=FONT, labelFontSize=18, titleFont=FONT,
    titleColor="black", grid=False
)

chart.save("out.html", embed_options={"renderer": "svg", "actions": False})
